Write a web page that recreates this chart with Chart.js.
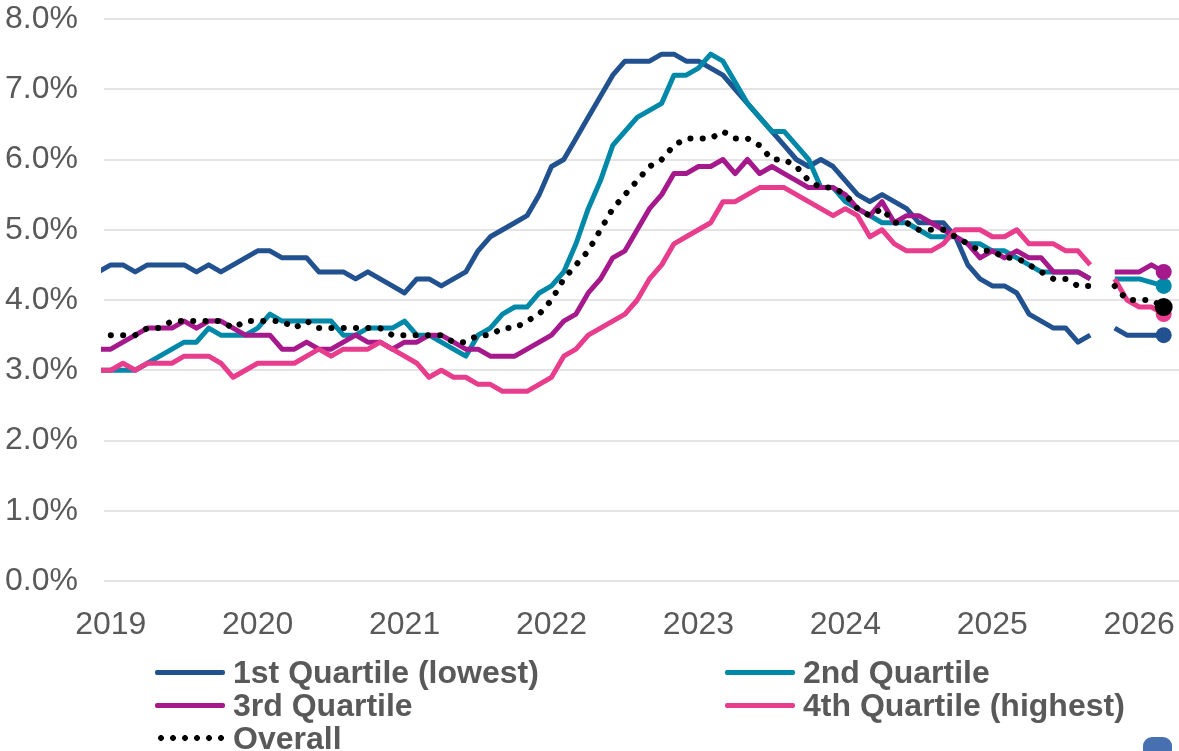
<!DOCTYPE html>
<html>
<head>
<meta charset="utf-8">
<title>Wage growth by quartile</title>
<script src="https://cdn.jsdelivr.net/npm/chart.js@4.4.1/dist/chart.umd.min.js"></script>
<style>
  html, body { margin: 0; padding: 0; background: #fff; }
  #wrap { position: relative; width: 1179px; height: 751px; overflow: hidden; font-family: "Liberation Sans", Arial, sans-serif; }
  #chart { position: absolute; left: 0; top: 0; }
  .swatch { position: absolute; width: 70px; height: 5px; }
  .swatch.dots { height: 12px; background: radial-gradient(circle, #000 2.6px, rgba(0,0,0,0) 3.2px) 0 0 / 12px 12px repeat-x; }
  .legtxt { position: absolute; font-size: 32px; font-weight: bold; color: #595959; line-height: 34px; white-space: nowrap; }
  #blob { position: absolute; left: 1143px; top: 737px; width: 29px; height: 24px; border-radius: 9px; background: #4670b0; }
</style>
</head>
<body>
<div id="wrap">
  <canvas id="chart" width="1179" height="751"></canvas>
  <div id="legend"></div>
  <div id="blob"></div>
</div>
<script>
// monthly series, Dec 2018 .. Mar 2026 (Oct 2025 missing)
const FIRST_MONTH = { year: 2018, month: 12 };

const q1 = [4.4,
  4.5, 4.5, 4.4, 4.5, 4.5, 4.5, 4.5, 4.4, 4.5, 4.4, 4.5, 4.6,
  4.7, 4.7, 4.6, 4.6, 4.6, 4.4, 4.4, 4.4, 4.3, 4.4, 4.3, 4.2,
  4.1, 4.3, 4.3, 4.2, 4.3, 4.4, 4.7, 4.9, 5.0, 5.1, 5.2, 5.5,
  5.9, 6.0, 6.3, 6.6, 6.9, 7.2, 7.4, 7.4, 7.4, 7.5, 7.5, 7.4,
  7.4, 7.3, 7.2, 7.0, 6.8, 6.6, 6.4, 6.2, 6.0, 5.9, 6.0, 5.9,
  5.7, 5.5, 5.4, 5.5, 5.4, 5.3, 5.1, 5.1, 5.1, 4.9, 4.5, 4.3,
  4.2, 4.2, 4.1, 3.8, 3.7, 3.6, 3.6, 3.4, 3.5, null, 3.6, 3.5,
  3.5, 3.5, 3.5];

const q2 = [3.0,
  3.0, 3.0, 3.0, 3.1, 3.2, 3.3, 3.4, 3.4, 3.6, 3.5, 3.5, 3.5,
  3.6, 3.8, 3.7, 3.7, 3.7, 3.7, 3.7, 3.5, 3.5, 3.6, 3.6, 3.6,
  3.7, 3.5, 3.5, 3.4, 3.3, 3.2, 3.5, 3.6, 3.8, 3.9, 3.9, 4.1,
  4.2, 4.4, 4.8, 5.3, 5.7, 6.2, 6.4, 6.6, 6.7, 6.8, 7.2, 7.2,
  7.3, 7.5, 7.4, 7.1, 6.8, 6.6, 6.4, 6.4, 6.2, 6.0, 5.6, 5.6,
  5.4, 5.3, 5.2, 5.1, 5.1, 5.1, 5.0, 4.9, 4.9, 4.9, 4.8, 4.8,
  4.7, 4.7, 4.6, 4.5, 4.4, 4.4, 4.4, 4.4, 4.3, null, 4.3, 4.3,
  4.3, 4.25, 4.2];

const q3 = [3.3,
  3.3, 3.4, 3.5, 3.6, 3.6, 3.6, 3.7, 3.6, 3.7, 3.7, 3.6, 3.5,
  3.5, 3.5, 3.3, 3.3, 3.4, 3.3, 3.3, 3.4, 3.5, 3.4, 3.4, 3.3,
  3.4, 3.4, 3.5, 3.5, 3.4, 3.3, 3.3, 3.2, 3.2, 3.2, 3.3, 3.4,
  3.5, 3.7, 3.8, 4.1, 4.3, 4.6, 4.7, 5.0, 5.3, 5.5, 5.8, 5.8,
  5.9, 5.9, 6.0, 5.8, 6.0, 5.8, 5.9, 5.8, 5.7, 5.6, 5.6, 5.6,
  5.5, 5.3, 5.2, 5.4, 5.1, 5.2, 5.2, 5.1, 5.0, 4.9, 4.8, 4.6,
  4.7, 4.6, 4.7, 4.6, 4.6, 4.4, 4.4, 4.4, 4.3, null, 4.4, 4.4,
  4.4, 4.5, 4.4];

const q4 = [3.0,
  3.0, 3.1, 3.0, 3.1, 3.1, 3.1, 3.2, 3.2, 3.2, 3.1, 2.9, 3.0,
  3.1, 3.1, 3.1, 3.1, 3.2, 3.3, 3.2, 3.3, 3.3, 3.3, 3.4, 3.3,
  3.2, 3.1, 2.9, 3.0, 2.9, 2.9, 2.8, 2.8, 2.7, 2.7, 2.7, 2.8,
  2.9, 3.2, 3.3, 3.5, 3.6, 3.7, 3.8, 4.0, 4.3, 4.5, 4.8, 4.9,
  5.0, 5.1, 5.4, 5.4, 5.5, 5.6, 5.6, 5.6, 5.5, 5.4, 5.3, 5.2,
  5.3, 5.2, 4.9, 5.0, 4.8, 4.7, 4.7, 4.7, 4.8, 5.0, 5.0, 5.0,
  4.9, 4.9, 5.0, 4.8, 4.8, 4.8, 4.7, 4.7, 4.5, null, 4.3, 4.0,
  3.9, 3.9, 3.8];

const overall = [3.5,
  3.5, 3.5, 3.5, 3.6, 3.6, 3.7, 3.7, 3.7, 3.7, 3.7, 3.6, 3.7,
  3.7, 3.7, 3.7, 3.6, 3.7, 3.6, 3.6, 3.6, 3.6, 3.6, 3.6, 3.5,
  3.5, 3.5, 3.5, 3.5, 3.4, 3.4, 3.5, 3.5, 3.6, 3.6, 3.7, 3.8,
  4.0, 4.3, 4.5, 4.7, 5.0, 5.3, 5.5, 5.7, 5.9, 6.0, 6.2, 6.3,
  6.3, 6.3, 6.4, 6.3, 6.3, 6.2, 6.0, 6.0, 5.9, 5.7, 5.6, 5.6,
  5.5, 5.3, 5.2, 5.3, 5.1, 5.1, 5.0, 5.0, 5.0, 4.9, 4.8, 4.7,
  4.7, 4.6, 4.6, 4.5, 4.4, 4.3, 4.3, 4.2, 4.2, null, 4.2, 4.0,
  4.0, 4.0, 3.9];

const seriesNames = ['1st Quartile (lowest)', '2nd Quartile', '3rd Quartile', '4th Quartile (highest)', 'Overall'];
const seriesColors = ['#21518f', '#0088a9', '#a6198c', '#e83d8c', '#000000'];

const yearLabels = ['2019', '2020', '2021', '2022', '2023', '2024', '2025', '2026'];
const yTicks = [0, 1, 2, 3, 4, 5, 6, 7, 8];

// months counted from Jan 2019
function monthIndex(i) {
  return (FIRST_MONTH.year - 2019) * 12 + (FIRST_MONTH.month - 1) + i;
}
const yearTickValues = yearLabels.map(y => (Number(y) - 2019) * 12);

function toPoints(arr) {
  return arr.map((v, i) => ({ x: monthIndex(i), y: v }));
}

function lastIdx(arr) {
  for (let i = arr.length - 1; i >= 0; i--) if (arr[i] != null) return i;
  return -1;
}

const allSeries = [q1, q2, q3, q4, overall];

const datasets = allSeries.map((arr, k) => {
  const last = lastIdx(arr);
  const isOverall = k === 4;
  return {
    label: seriesNames[k],
    data: toPoints(arr),
    borderColor: seriesColors[k],
    backgroundColor: seriesColors[k],
    borderWidth: isOverall ? 6 : 5,
    borderDash: isOverall ? [0.1, 12.2] : [],
    borderCapStyle: isOverall ? 'round' : 'butt',
    borderJoinStyle: 'round',
    tension: 0,
    spanGaps: false,
    clip: isOverall ? 0 : 3,
    order: 5 - k,
    pointRadius: ctx => ctx.dataIndex === last ? (isOverall ? 9 : 8) : 0,
    pointHoverRadius: 0,
    pointBorderWidth: 0,
    pointBackgroundColor: seriesColors[k]
  };
});

const tickFont = { family: '"Liberation Sans", Arial, sans-serif', size: 32 };

new Chart(document.getElementById('chart'), {
  type: 'line',
  data: { datasets },
  options: {
    responsive: false,
    animation: false,
    devicePixelRatio: 1,
    layout: { autoPadding: false, padding: { left: 0, right: 0, top: 19, bottom: 100 } },
    plugins: { legend: { display: false }, tooltip: { enabled: false } },
    scales: {
      x: {
        type: 'linear',
        min: -0.55,
        max: 87.25,
        afterBuildTicks: s => { s.ticks = yearTickValues.map(v => ({ value: v })); },
        // fixed size, and no extra room for overhanging labels
        afterFit: s => { s.height = 70; s.paddingLeft = 0; s.paddingRight = 0; },
        grid: { display: false, drawTicks: false },
        border: { display: false },
        ticks: {
          autoSkip: false,
          maxRotation: 0,
          padding: 25,
          color: '#595959',
          font: tickFont,
          callback: v => yearLabels[yearTickValues.indexOf(v)]
        }
      },
      y: {
        min: 0,
        max: 8,
        afterBuildTicks: s => { s.ticks = yTicks.map(v => ({ value: v })); },
        afterFit: s => { s.width = 104; s.paddingTop = 0; s.paddingBottom = 0; },
        grid: { color: '#e4e4e4', lineWidth: 2, drawTicks: false },
        border: { display: false },
        ticks: {
          padding: 26,
          color: '#595959',
          font: tickFont,
          callback: v => v.toFixed(1) + '%'
        }
      }
    }
  }
});

// legend laid out in two columns like the original
const legendSlots = [
  { sx: 155, tx: 233, cy: 672 },
  { sx: 725, tx: 803, cy: 672 },
  { sx: 155, tx: 233, cy: 705 },
  { sx: 725, tx: 803, cy: 705 },
  { sx: 155, tx: 233, cy: 738 }
];
const legend = document.getElementById('legend');
seriesNames.forEach((name, k) => {
  const slot = legendSlots[k];
  const sw = document.createElement('div');
  sw.className = 'swatch' + (k === 4 ? ' dots' : '');
  sw.style.left = slot.sx + 'px';
  if (k === 4) { sw.style.top = (slot.cy - 6) + 'px'; sw.style.width = '72px'; }
  else { sw.style.top = (slot.cy - 2.5) + 'px'; sw.style.background = seriesColors[k]; sw.style.borderRadius = '2px'; }
  legend.appendChild(sw);
  const t = document.createElement('div');
  t.className = 'legtxt';
  t.style.left = slot.tx + 'px';
  t.style.top = (slot.cy - 17) + 'px';
  t.textContent = name;
  legend.appendChild(t);
});
</script>
</body>
</html>
